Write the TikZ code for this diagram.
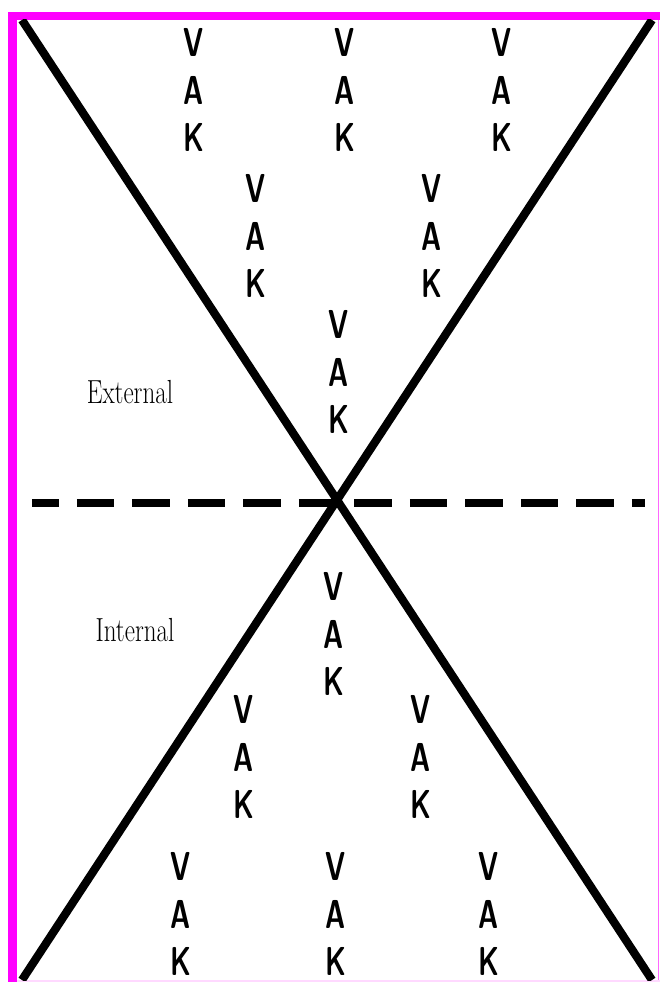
\documentclass[tikz,border=0pt]{standalone}
\usepackage{graphicx}
\usetikzlibrary{positioning}

\definecolor{framepink}{RGB}{255,0,255}
\newcommand{\nrw}[1]{\scalebox{0.68}[1]{#1}}

\begin{document}
\begin{tikzpicture}[x=0.02cm,y=-0.02cm,every node/.style={inner sep=0pt}]
  \tikzset{
    vak/.style={align=center,font=\fontsize{23}{27.2}\selectfont\sffamily\bfseries},
    side/.style={font=\fontsize{19}{22}\selectfont},
    cross/.style={line width=4.7pt,black},
    horizon/.style={line width=4pt,dash pattern=on 0.75cm off 0.36cm,dash phase=0.21cm}
  }
  \useasboundingbox (0,0) rectangle (660,982);
  % frame
  \fill[framepink] (8,12) rectangle (660,20);
  \fill[framepink] (8,12) rectangle (17,982);
  \draw[framepink!60,line width=0.6pt] (658.5,20) -- (658.5,982);
  \draw[framepink!15,line width=0.6pt] (17,981) -- (660,981);
  % corners of the cross
  \coordinate (tl) at (22,20);
  \coordinate (tr) at (652,20);
  \coordinate (bl) at (22,980);
  \coordinate (br) at (652,980);
  \begin{scope}
    \clip (17,20) rectangle (658,980);
    \draw[cross] (tl) -- (br);
    \draw[cross] (tr) -- (bl);
  \end{scope}
  \coordinate (hl) at (32,503);
  \coordinate (hr) at (645,503);
  \draw[horizon] (hl) -- (hr);
  % stacks
  \foreach \name/\x/\y in {t1/194/90,t2/345/90,t3/502/90,u1/256/236,u2/432/236,c1/339/372,
                           c2/334/634,l1/244/757,l2/421/757,b1/181/914,b2/336/914,b3/489/914}
    \node[vak] (\name) at (\x,\y) {\nrw{V}\\\nrw{A}\\\nrw{K}};
  \node[side] (ext) at (130,392) {\scalebox{0.75}[1]{External}};
  \node[side] (int) at (135,630) {\scalebox{0.75}[1]{Internal}};
\end{tikzpicture}
\end{document}
